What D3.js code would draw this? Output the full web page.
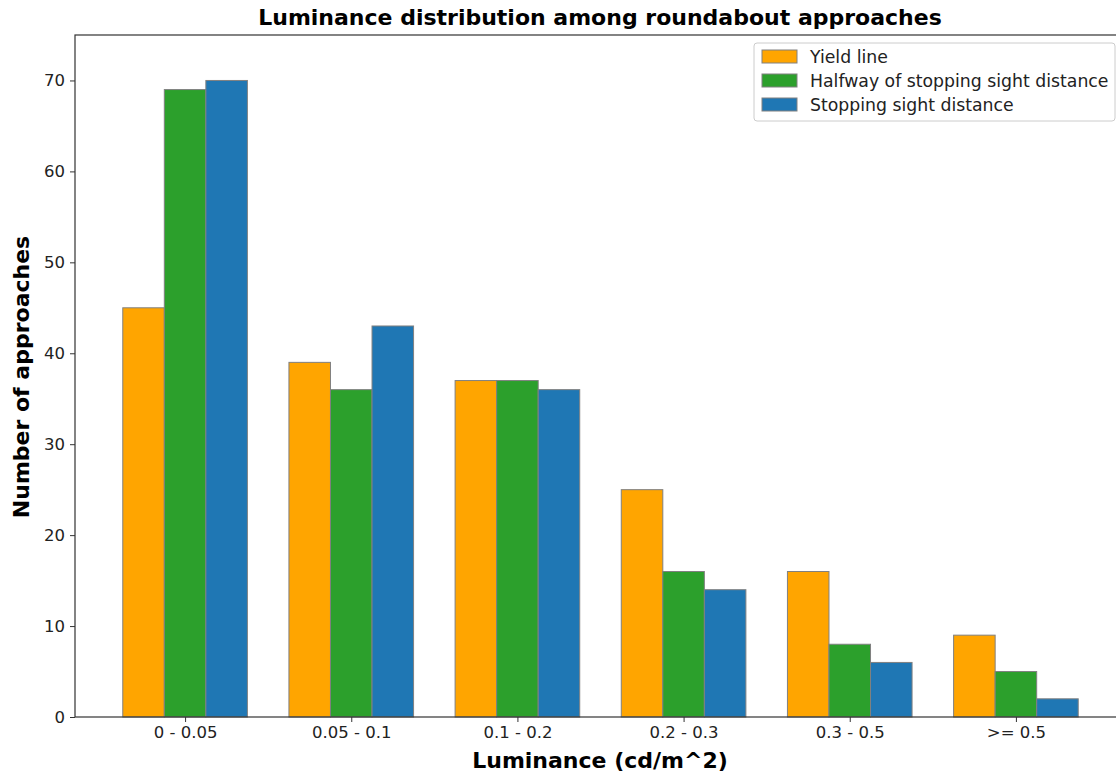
<!DOCTYPE html>
<html><head><meta charset="utf-8">
<script src="https://cdn.jsdelivr.net/npm/d3@7"></script>
<style>body{margin:0;background:#fff}svg{display:block}text{font-family:"DejaVu Sans",sans-serif}</style>
</head><body>
<svg id="c" width="1116" height="773"></svg>
<script>
const categories = ["0 - 0.05","0.05 - 0.1","0.1 - 0.2","0.2 - 0.3","0.3 - 0.5",">= 0.5"];
const seriesNames = ["Yield line","Halfway of stopping sight distance","Stopping sight distance"];
const yieldLine = [45,39,37,25,16,9];
const halfway = [69,36,37,16,8,5];
const stopping = [70,43,36,14,6,2];
const seriesColors = ["#FFA500","#2ca02c","#1f77b4"];
const yTicks = [0,10,20,30,40,50,60,70];

const series = [yieldLine, halfway, stopping];
const svg = d3.select("#c");
const L = 75, R = 1126, T = 35, B = 717;
const x = d3.scaleLinear().domain([-0.6625, 5.6625]).range([L, R]);
const y = d3.scaleLinear().domain([0, 75]).range([B, T]);
const bw = 0.25;

const g = svg.append("g");
series.forEach((vals, si) => {
  g.selectAll(null).data(vals).enter().append("rect")
    .attr("x", (d,i) => x(i + (si-1)*bw - bw/2))
    .attr("width", x(bw) - x(0))
    .attr("y", d => y(d))
    .attr("height", d => y(0) - y(d))
    .attr("fill", seriesColors[si])
    .attr("stroke", "#808080").attr("stroke-width", 1);
});

// spines
svg.append("rect").attr("x", L).attr("y", T).attr("width", R-L).attr("height", B-T)
  .attr("fill","none").attr("stroke","#333").attr("stroke-width",1.2);

// y axis
const ya = svg.append("g").attr("transform",`translate(${L},0)`)
  .call(d3.axisLeft(y).tickValues(yTicks).tickSize(5).tickPadding(5));
ya.select(".domain").remove();
ya.selectAll("text").attr("font-size","16.5px").attr("fill","#222").style("font-family","DejaVu Sans");
ya.selectAll("line").attr("stroke","#333");

// x axis
const xa = svg.append("g").attr("transform",`translate(0,${B})`)
  .call(d3.axisBottom(x).tickValues(d3.range(categories.length)).tickFormat(i => categories[i]).tickSize(5).tickPadding(4));
xa.select(".domain").remove();
xa.selectAll("text").attr("font-size","16.5px").attr("fill","#222").style("font-family","DejaVu Sans");
xa.selectAll("line").attr("stroke","#333");

// labels
svg.append("text").attr("x", 600).attr("y", 25).attr("text-anchor","middle")
  .attr("font-size","22px").attr("font-weight","bold").text("Luminance distribution among roundabout approaches");
svg.append("text").attr("x", 600).attr("y", 768).attr("text-anchor","middle")
  .attr("font-size","22px").attr("font-weight","bold").text("Luminance (cd/m^2)");
svg.append("text").attr("transform","translate(29,377) rotate(-90)").attr("text-anchor","middle")
  .attr("font-size","22px").attr("font-weight","bold").text("Number of approaches");

// legend
const lg = svg.append("g");
lg.append("rect").attr("x",754).attr("y",43).attr("width",361).attr("height",78).attr("rx",3)
  .attr("fill","#fff").attr("fill-opacity",0.8).attr("stroke","#ccc");
seriesNames.forEach((n,i) => {
  lg.append("rect").attr("x",762).attr("y",50+i*24).attr("width",35).attr("height",13)
    .attr("fill",seriesColors[i]).attr("stroke","#808080");
  lg.append("text").attr("x",810).attr("y",63+i*24).attr("font-size","17.3px").attr("fill","#222").text(n);
});
</script>
</body></html>
